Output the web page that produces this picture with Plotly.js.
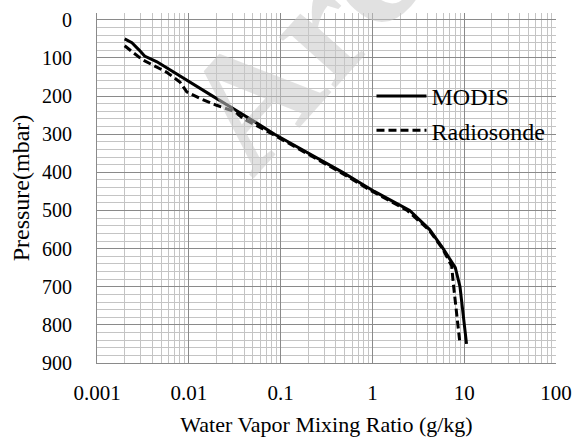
<!DOCTYPE html>
<html>
<head>
<meta charset="utf-8">
<script src="https://cdn.plot.ly/plotly-3.0.1.min.js"></script>
<style>html,body{margin:0;padding:0;background:#fff;}#chart{width:574px;height:437px;}</style>
</head>
<body>
<div id="chart"></div>
<script>
// MODIS profile: pressure (mbar) and water vapor mixing ratio (g/kg)
const modisPressure = [50, 60, 80, 95, 110, 150, 200, 250, 300, 400, 450, 500, 550, 600, 650, 700, 775, 850];
const modisMixing   = [0.002, 0.0024, 0.0029, 0.0033, 0.0045, 0.0083, 0.0182, 0.040, 0.086, 0.475, 1.05, 2.55, 4.2, 5.9, 8.0, 9.0, 9.8, 10.6];

// Radiosonde profile
const sondePressure = [68, 80, 104, 137, 163, 189, 206, 224, 240, 260, 300, 400, 450, 500, 550, 600, 645, 690, 775, 850];
const sondeMixing   = [0.002, 0.0023, 0.0031, 0.0057, 0.0080, 0.0095, 0.0132, 0.0201, 0.031, 0.040, 0.082, 0.45, 1.0, 2.4, 4.1, 5.8, 7.3, 7.6, 8.3, 9.0];

const xTickVals = [0.001, 0.01, 0.1, 1, 10, 100];
const xTickText = ["0.001", "0.01", "0.1", "1", "10", "100"];
const yTickVals = [0, 100, 200, 300, 400, 500, 600, 700, 800, 900];

const serif = "'Liberation Serif', 'Times New Roman', serif";

const traces = [
  {x: modisMixing, y: modisPressure, name: "MODIS", mode: "lines", type: "scatter",
   line: {color: "#000", width: 3}},
  {x: sondeMixing, y: sondePressure, name: "Radiosonde", mode: "lines", type: "scatter",
   line: {color: "#000", width: 3, dash: "8px,4px"}}
];

const layout = {
  width: 574, height: 437,
  margin: {l: 97, r: 18, t: 13, b: 74},
  paper_bgcolor: "#fff", plot_bgcolor: "#fff",
  font: {family: serif, color: "#000", size: 20},
  showlegend: true,
  legend: {x: 0.598, y: 0.826, xanchor: "left", yanchor: "top", bgcolor: "rgba(0,0,0,0)",
           font: {family: serif, size: 24, color: "#000"}, tracegroupgap: 0, itemwidth: 50},
  xaxis: {
    type: "log", range: [-3, 2],
    tickvals: xTickVals, ticktext: xTickText,
    showgrid: true, gridcolor: "#8a8a8a", gridwidth: 1,
    minor: {dtick: "D1", showgrid: true, gridcolor: "#c4c4c4", gridwidth: 1, ticks: ""},
    showline: true, linecolor: "#8a8a8a", linewidth: 1,
    ticks: "outside", ticklen: 11, tickcolor: "rgba(0,0,0,0)", zeroline: false,
    tickfont: {family: serif, size: 21},
    title: {text: "Water Vapor Mixing Ratio (g/kg)", font: {family: serif, size: 22}, standoff: 16}
  },
  yaxis: {
    range: [900, -18],
    tickvals: yTickVals,
    showgrid: true, gridcolor: "#8a8a8a", gridwidth: 1,
    minor: {dtick: 20, showgrid: true, gridcolor: "#c4c4c4", gridwidth: 1, ticks: ""},
    showline: true, linecolor: "#8a8a8a", linewidth: 1,
    ticks: "", ticklabelstandoff: 20, zeroline: false,
    tickfont: {family: serif, size: 20},
    title: {text: "Pressure(mbar)", font: {family: serif, size: 24}, standoff: 5}
  },
  annotations: [
    {text: "<b>Arc</b>", xref: "paper", yref: "paper", x: 0.442, y: 0.909, showarrow: false,
     textangle: -48, font: {family: serif, size: 165, color: "rgba(200,200,200,0.55)"},
     xanchor: "center", yanchor: "middle"}
  ]
};

Plotly.newPlot("chart", traces, layout, {staticPlot: true});
</script>
</body>
</html>
